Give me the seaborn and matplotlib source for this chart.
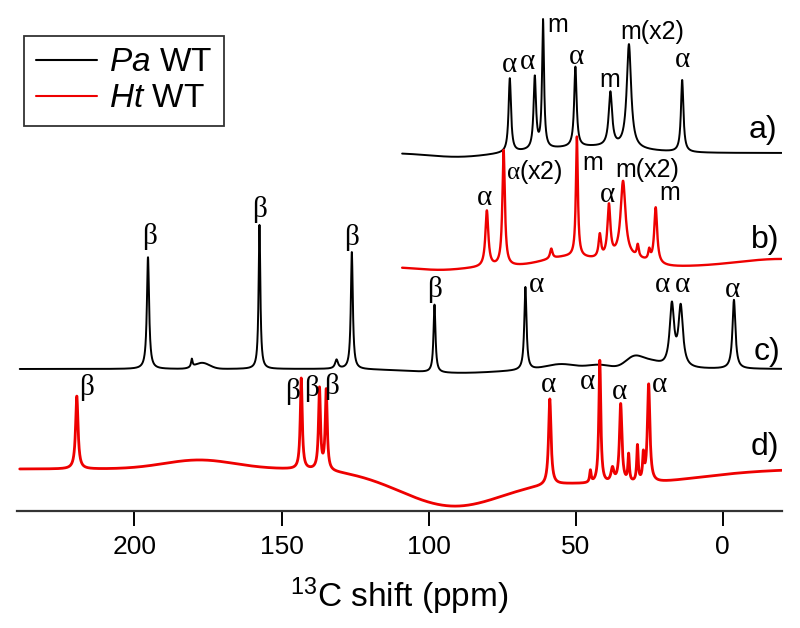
import numpy as np
import pandas as pd
import matplotlib
matplotlib.use('Agg')
import matplotlib.pyplot as plt
from matplotlib.lines import Line2D
import seaborn as sns

# --- values ---------------------------------------------------------------
# sharp lines: position (ppm), height above baseline, half width (ppm)
# broad baseline features: position (ppm), height, sigma (ppm)

# a) Pa WT (top)
a_range = (109, -20)
a_offset = 358
a_pos = [72.4, 63.9, 61.1, 50.1, 38.2, 31.9, 13.8]
a_height = [74, 72, 128, 80, 54, 104, 72]
a_width = [0.5, 0.5, 0.4, 0.5, 0.7, 0.9, 0.5]
a_bpos = [45, 90]
a_bheight = [6, -4]
a_bsigma = [15, 10]

# b) Ht WT
b_range = (109, -20)
b_offset = 244
b_pos = [80.2, 74.5, 58.3, 49.6, 41.8, 38.7, 33.9, 28.9, 25.0, 22.8]
b_height = [56, 116, 10, 120, 23, 52, 76, 12, 10, 56]
b_width = [0.6, 0.5, 0.5, 0.4, 0.5, 0.6, 1.0, 0.4, 0.4, 0.6]
b_bpos = [96, 52, 32, -20]
b_bheight = [-3, 10, 8, 8]
b_bsigma = [8, 9, 6, 15]

# c) Pa WT
c_range = (239, -20)
c_offset = 142
c_pos = [195.4, 180.5, 157.5, 131.3, 126.1, 98.0, 67.1, 17.3, 14.3, -3.8]
c_height = [112, 8, 144, 9, 117, 68, 83, 62, 60, 69]
c_width = [0.45, 0.3, 0.35, 0.6, 0.4, 0.4, 0.45, 0.9, 0.9, 0.6]
c_bpos = [177, 90, 55, 42, 30, 24]
c_bheight = [6, -4, 5, 4, 12, 6]
c_bsigma = [2.5, 15, 5, 4, 3, 3]

# d) Ht WT (bottom)
d_range = (239, -20)
d_offset = 42
d_pos = [219.6, 143.3, 137.1, 134.8, 58.8, 45.0, 41.8, 37.5, 34.7, 32.0, 29.0, 27.0, 25.2]
d_height = [73, 91, 81, 80, 86, 12, 123, 14, 79, 27, 36, 25, 98]
d_width = [0.5, 0.4, 0.4, 0.4, 0.5, 0.3, 0.4, 0.6, 0.5, 0.3, 0.3, 0.3, 0.5]
d_bpos = [178, 92, 35]
d_bheight = [9, -36, -15]
d_bsigma = [12, 18, 25]

# peak labels: text, ppm, height
a_labels = ['α', 'α', 'm', 'α', 'm', 'm(x2)', 'α']
a_lab_x = [72.4, 66.3, 56.1, 49.7, 38.4, 23.8, 13.6]
a_lab_y = [446, 449, 486, 454, 431, 479, 451]

b_labels = ['α', r'$\mathrm{α}$(x2)', 'm', 'α', 'm(x2)', 'm']
b_lab_x = [81.0, 63.9, 44.2, 39.1, 25.5, 18.0]
b_lab_y = [313, 339, 348, 316, 341, 318]

c_labels = ['β', 'β', 'β', 'β', 'α', 'α', 'α', 'α']
c_lab_x = [194.9, 157.5, 126.2, 98.0, 63.3, 20.4, 13.6, -3.4]
c_lab_y = [274, 301, 273, 221, 226, 226, 226, 221]

d_labels = ['β', 'β', 'β', 'β', 'α', 'α', 'α', 'α']
d_lab_x = [216.3, 146.3, 139.8, 133.0, 59.2, 45.9, 35.0, 21.4]
d_lab_y = [123, 119, 122, 124, 126, 129, 119, 126]

trace_names = ['a)', 'b)', 'c)', 'd)']
trace_lab_x = [-13.6, -14.3, -15.0, -14.3]
trace_lab_y = [381, 271, 159, 64]


def spectrum(rng, offset, pos, height, width, bpos, bheight, bsigma):
    ppm = np.linspace(rng[0], rng[1], 5000)
    y = np.full_like(ppm, float(offset))
    for p, h, w in zip(pos, height, width):
        y += h * w ** 2 / ((ppm - p) ** 2 + w ** 2)
    for p, h, s in zip(bpos, bheight, bsigma):
        y += h * np.exp(-(ppm - p) ** 2 / (2 * s ** 2))
    return ppm, y


frames = []
specs = {
    'a': (a_range, a_offset, a_pos, a_height, a_width, a_bpos, a_bheight, a_bsigma),
    'b': (b_range, b_offset, b_pos, b_height, b_width, b_bpos, b_bheight, b_bsigma),
    'c': (c_range, c_offset, c_pos, c_height, c_width, c_bpos, c_bheight, c_bsigma),
    'd': (d_range, d_offset, d_pos, d_height, d_width, d_bpos, d_bheight, d_bsigma),
}
for name, args in specs.items():
    ppm, y = spectrum(*args)
    frames.append(pd.DataFrame({'trace': name, 'ppm': ppm, 'intensity': y}))
df = pd.concat(frames, ignore_index=True)

# --- style -------------------------------------------------------------------
sns.set_style('white')
plt.rcParams['font.family'] = ['Liberation Sans', 'DejaVu Sans']
plt.rcParams['text.color'] = 'black'
plt.rcParams['axes.labelcolor'] = 'black'
plt.rcParams['xtick.color'] = 'black'
plt.rcParams['mathtext.fontset'] = 'custom'
plt.rcParams['mathtext.rm'] = 'Liberation Serif'
plt.rcParams['mathtext.it'] = 'Liberation Sans:italic'
plt.rcParams['mathtext.sf'] = 'Liberation Sans'

fig = plt.figure(figsize=(8, 6.28), dpi=100)
ax = fig.add_axes([0.021, 0.1863, 0.956, 0.7978])

colors = {'a': 'black', 'b': '#ee0000', 'c': 'black', 'd': '#ee0000'}
widths = {'a': 1.4, 'b': 1.7, 'c': 1.4, 'd': 2.0}
for name in ['a', 'c', 'b', 'd']:
    sns.lineplot(data=df[df['trace'] == name], x='ppm', y='intensity',
                 color=colors[name], lw=widths[name], sort=False,
                 estimator=None, ax=ax)

ax.set_xlim(240, -20)
ax.set_ylim(0, 501)
ax.set_yticks([])
ax.set_ylabel('')
ax.set_xticks([200, 150, 100, 50, 0])
ax.tick_params(axis='x', direction='out', length=11, width=1.4, labelsize=19,
               pad=6, bottom=True, colors='black')
for side in ['left', 'right', 'top']:
    ax.spines[side].set_visible(False)
ax.spines['bottom'].set_linewidth(1.6)
ax.spines['bottom'].set_color('#333333')
ax.set_xlabel(r'$^{\mathsf{13}}$C shift (ppm)', fontsize=24, labelpad=12)

# peak labels
for labels, xs, ys in [(a_labels, a_lab_x, a_lab_y), (b_labels, b_lab_x, b_lab_y),
                       (c_labels, c_lab_x, c_lab_y), (d_labels, d_lab_x, d_lab_y)]:
    for t, x, y in zip(labels, xs, ys):
        greek = t in ('α', 'β')
        ax.text(x, y, t, ha='center', va='center',
                fontsize=21 if greek else 18,
                family='Liberation Serif' if greek else 'Liberation Sans')

for t, x, y in zip(trace_names, trace_lab_x, trace_lab_y):
    ax.text(x, y, t, ha='center', va='center', fontsize=23)

# legend
handles = [Line2D([], [], color='black', lw=1.5), Line2D([], [], color='#ee0000', lw=1.5)]
leg = fig.legend(handles, [r'$\mathit{Pa}$ WT', r'$\mathit{Ht}$ WT'],
                 loc='upper left', bbox_to_anchor=(0.03, 0.943),
                 frameon=True, fancybox=False, edgecolor='black', fontsize=24,
                 handlelength=1.85, borderpad=0.35, labelspacing=0.15,
                 handletextpad=0.35, borderaxespad=0)
leg.get_frame().set_linewidth(1.3)

fig.savefig('out.png', dpi=100)
